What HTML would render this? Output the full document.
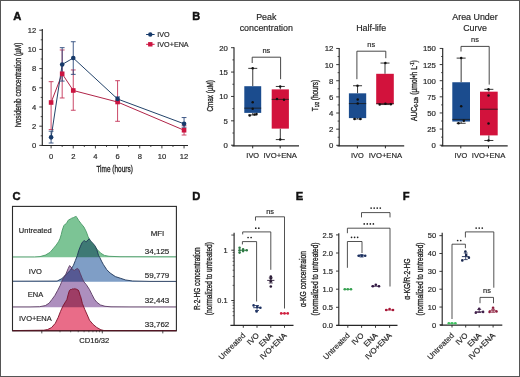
<!DOCTYPE html>
<html><head><meta charset="utf-8"><style>
html,body{margin:0;padding:0;background:#fff;}
body{width:520px;height:377px;overflow:hidden;}
svg{display:block;font-family:"Liberation Sans", sans-serif;}
text{stroke:#2a2a2a;stroke-width:0.18px;paint-order:stroke;}
text.pl{stroke:#111;stroke-width:0.45px;}
text.cd{stroke-width:0.34px;}
</style></head><body>
<svg width="520" height="377" viewBox="0 0 520 377">
<rect x="0" y="0" width="520" height="377" fill="#fff"/>
<text transform="translate(13.20,19.70)" font-size="11.2" text-anchor="start" fill="#111" font-weight="bold" class="pl">A</text>
<line x1="42.30" y1="29.00" x2="42.30" y2="145.90" stroke="#262626" stroke-width="1.15"/>
<line x1="41.80" y1="145.50" x2="188.00" y2="145.50" stroke="#262626" stroke-width="1.15"/>
<line x1="39.30" y1="145.40" x2="42.30" y2="145.40" stroke="#262626" stroke-width="0.9"/>
<text transform="translate(36.20,148.10)" font-size="7.6" text-anchor="end" fill="#262626" font-weight="normal" >0</text>
<line x1="40.70" y1="135.80" x2="42.30" y2="135.80" stroke="#262626" stroke-width="0.8"/>
<line x1="39.30" y1="126.20" x2="42.30" y2="126.20" stroke="#262626" stroke-width="0.9"/>
<text transform="translate(36.20,128.90)" font-size="7.6" text-anchor="end" fill="#262626" font-weight="normal" >2</text>
<line x1="40.70" y1="116.60" x2="42.30" y2="116.60" stroke="#262626" stroke-width="0.8"/>
<line x1="39.30" y1="107.00" x2="42.30" y2="107.00" stroke="#262626" stroke-width="0.9"/>
<text transform="translate(36.20,109.70)" font-size="7.6" text-anchor="end" fill="#262626" font-weight="normal" >4</text>
<line x1="40.70" y1="97.40" x2="42.30" y2="97.40" stroke="#262626" stroke-width="0.8"/>
<line x1="39.30" y1="87.80" x2="42.30" y2="87.80" stroke="#262626" stroke-width="0.9"/>
<text transform="translate(36.20,90.50)" font-size="7.6" text-anchor="end" fill="#262626" font-weight="normal" >6</text>
<line x1="40.70" y1="78.20" x2="42.30" y2="78.20" stroke="#262626" stroke-width="0.8"/>
<line x1="39.30" y1="68.60" x2="42.30" y2="68.60" stroke="#262626" stroke-width="0.9"/>
<text transform="translate(36.20,71.30)" font-size="7.6" text-anchor="end" fill="#262626" font-weight="normal" >8</text>
<line x1="40.70" y1="59.00" x2="42.30" y2="59.00" stroke="#262626" stroke-width="0.8"/>
<line x1="39.30" y1="49.40" x2="42.30" y2="49.40" stroke="#262626" stroke-width="0.9"/>
<text transform="translate(36.20,52.10)" font-size="7.6" text-anchor="end" fill="#262626" font-weight="normal" >10</text>
<line x1="40.70" y1="39.80" x2="42.30" y2="39.80" stroke="#262626" stroke-width="0.8"/>
<line x1="39.30" y1="30.20" x2="42.30" y2="30.20" stroke="#262626" stroke-width="0.9"/>
<text transform="translate(36.20,32.90)" font-size="7.6" text-anchor="end" fill="#262626" font-weight="normal" >12</text>
<line x1="51.10" y1="145.40" x2="51.10" y2="148.40" stroke="#262626" stroke-width="0.9"/>
<text transform="translate(51.10,159.30)" font-size="7.6" text-anchor="middle" fill="#262626" font-weight="normal" >0</text>
<line x1="62.18" y1="145.40" x2="62.18" y2="147.00" stroke="#262626" stroke-width="0.8"/>
<line x1="73.26" y1="145.40" x2="73.26" y2="148.40" stroke="#262626" stroke-width="0.9"/>
<text transform="translate(73.26,159.30)" font-size="7.6" text-anchor="middle" fill="#262626" font-weight="normal" >2</text>
<line x1="84.34" y1="145.40" x2="84.34" y2="147.00" stroke="#262626" stroke-width="0.8"/>
<line x1="95.42" y1="145.40" x2="95.42" y2="148.40" stroke="#262626" stroke-width="0.9"/>
<text transform="translate(95.42,159.30)" font-size="7.6" text-anchor="middle" fill="#262626" font-weight="normal" >4</text>
<line x1="106.50" y1="145.40" x2="106.50" y2="147.00" stroke="#262626" stroke-width="0.8"/>
<line x1="117.58" y1="145.40" x2="117.58" y2="148.40" stroke="#262626" stroke-width="0.9"/>
<text transform="translate(117.58,159.30)" font-size="7.6" text-anchor="middle" fill="#262626" font-weight="normal" >6</text>
<line x1="128.66" y1="145.40" x2="128.66" y2="147.00" stroke="#262626" stroke-width="0.8"/>
<line x1="139.74" y1="145.40" x2="139.74" y2="148.40" stroke="#262626" stroke-width="0.9"/>
<text transform="translate(139.74,159.30)" font-size="7.6" text-anchor="middle" fill="#262626" font-weight="normal" >8</text>
<line x1="150.82" y1="145.40" x2="150.82" y2="147.00" stroke="#262626" stroke-width="0.8"/>
<line x1="161.90" y1="145.40" x2="161.90" y2="148.40" stroke="#262626" stroke-width="0.9"/>
<text transform="translate(161.90,159.30)" font-size="7.6" text-anchor="middle" fill="#262626" font-weight="normal" >10</text>
<line x1="172.98" y1="145.40" x2="172.98" y2="147.00" stroke="#262626" stroke-width="0.8"/>
<line x1="184.06" y1="145.40" x2="184.06" y2="148.40" stroke="#262626" stroke-width="0.9"/>
<text transform="translate(184.06,159.30)" font-size="7.6" text-anchor="middle" fill="#262626" font-weight="normal" >12</text>
<text transform="translate(114.60,172.40) scale(0.705,1)" font-size="9.2" text-anchor="middle" fill="#262626" font-weight="normal"  class="cd">Time (hours)</text>
<text transform="translate(21.40,85.00) rotate(-90) scale(0.75,1)" font-size="8.6" text-anchor="middle" fill="#262626" font-weight="normal"  class="cd">Ivosidenib concentration (µM)</text>
<line x1="51.10" y1="129.56" x2="51.10" y2="81.66" stroke="#c43458" stroke-width="0.9"/>
<line x1="48.70" y1="81.66" x2="53.50" y2="81.66" stroke="#c43458" stroke-width="0.9"/>
<line x1="48.70" y1="129.56" x2="53.50" y2="129.56" stroke="#c43458" stroke-width="0.9"/>
<line x1="62.18" y1="97.98" x2="62.18" y2="49.98" stroke="#c43458" stroke-width="0.9"/>
<line x1="59.78" y1="49.98" x2="64.58" y2="49.98" stroke="#c43458" stroke-width="0.9"/>
<line x1="59.78" y1="97.98" x2="64.58" y2="97.98" stroke="#c43458" stroke-width="0.9"/>
<line x1="73.26" y1="110.26" x2="73.26" y2="69.94" stroke="#c43458" stroke-width="0.9"/>
<line x1="70.86" y1="69.94" x2="75.66" y2="69.94" stroke="#c43458" stroke-width="0.9"/>
<line x1="70.86" y1="110.26" x2="75.66" y2="110.26" stroke="#c43458" stroke-width="0.9"/>
<line x1="117.58" y1="121.30" x2="117.58" y2="80.70" stroke="#c43458" stroke-width="0.9"/>
<line x1="115.18" y1="80.70" x2="119.98" y2="80.70" stroke="#c43458" stroke-width="0.9"/>
<line x1="115.18" y1="121.30" x2="119.98" y2="121.30" stroke="#c43458" stroke-width="0.9"/>
<line x1="184.06" y1="135.03" x2="184.06" y2="125.24" stroke="#c43458" stroke-width="0.9"/>
<line x1="181.66" y1="125.24" x2="186.46" y2="125.24" stroke="#c43458" stroke-width="0.9"/>
<line x1="181.66" y1="135.03" x2="186.46" y2="135.03" stroke="#c43458" stroke-width="0.9"/>
<line x1="51.10" y1="143.00" x2="51.10" y2="131.19" stroke="#2c4a7c" stroke-width="0.9"/>
<line x1="48.70" y1="131.19" x2="53.50" y2="131.19" stroke="#2c4a7c" stroke-width="0.9"/>
<line x1="48.70" y1="143.00" x2="53.50" y2="143.00" stroke="#2c4a7c" stroke-width="0.9"/>
<line x1="62.18" y1="81.08" x2="62.18" y2="47.67" stroke="#2c4a7c" stroke-width="0.9"/>
<line x1="59.78" y1="47.67" x2="64.58" y2="47.67" stroke="#2c4a7c" stroke-width="0.9"/>
<line x1="59.78" y1="81.08" x2="64.58" y2="81.08" stroke="#2c4a7c" stroke-width="0.9"/>
<line x1="73.26" y1="74.36" x2="73.26" y2="41.72" stroke="#2c4a7c" stroke-width="0.9"/>
<line x1="70.86" y1="41.72" x2="75.66" y2="41.72" stroke="#2c4a7c" stroke-width="0.9"/>
<line x1="70.86" y1="74.36" x2="75.66" y2="74.36" stroke="#2c4a7c" stroke-width="0.9"/>
<line x1="117.58" y1="101.24" x2="117.58" y2="96.92" stroke="#2c4a7c" stroke-width="0.9"/>
<line x1="115.18" y1="96.92" x2="119.98" y2="96.92" stroke="#2c4a7c" stroke-width="0.9"/>
<line x1="115.18" y1="101.24" x2="119.98" y2="101.24" stroke="#2c4a7c" stroke-width="0.9"/>
<line x1="184.06" y1="127.16" x2="184.06" y2="117.56" stroke="#2c4a7c" stroke-width="0.9"/>
<line x1="181.66" y1="117.56" x2="186.46" y2="117.56" stroke="#2c4a7c" stroke-width="0.9"/>
<line x1="181.66" y1="127.16" x2="186.46" y2="127.16" stroke="#2c4a7c" stroke-width="0.9"/>
<polyline points="51.10,102.49 62.18,73.78 73.26,90.49 117.58,102.01 184.06,130.23" stroke="#b02448" stroke-width="1.0" fill="none"/>
<polyline points="51.10,137.34 62.18,64.47 73.26,58.04 117.58,99.03 184.06,123.80" stroke="#23436a" stroke-width="1.0" fill="none"/>
<rect x="48.80" y="100.19" width="4.60" height="4.60" fill="#cc1440" stroke="none" stroke-width="0"/>
<rect x="59.88" y="71.48" width="4.60" height="4.60" fill="#cc1440" stroke="none" stroke-width="0"/>
<rect x="70.96" y="88.19" width="4.60" height="4.60" fill="#cc1440" stroke="none" stroke-width="0"/>
<rect x="115.28" y="99.71" width="4.60" height="4.60" fill="#cc1440" stroke="none" stroke-width="0"/>
<rect x="181.76" y="127.93" width="4.60" height="4.60" fill="#cc1440" stroke="none" stroke-width="0"/>
<circle cx="51.10" cy="137.34" r="2.3" fill="#173a6a"/>
<circle cx="62.18" cy="64.47" r="2.3" fill="#173a6a"/>
<circle cx="73.26" cy="58.04" r="2.3" fill="#173a6a"/>
<circle cx="117.58" cy="99.03" r="2.3" fill="#173a6a"/>
<circle cx="184.06" cy="123.80" r="2.3" fill="#173a6a"/>
<line x1="146.10" y1="34.50" x2="154.60" y2="34.50" stroke="#173a6a" stroke-width="1.0"/>
<circle cx="150.30" cy="34.50" r="2.2" fill="#173a6a"/>
<line x1="146.10" y1="44.30" x2="154.60" y2="44.30" stroke="#cc1440" stroke-width="1.0"/>
<rect x="148.10" y="42.10" width="4.40" height="4.40" fill="#cc1440" stroke="none" stroke-width="0"/>
<text transform="translate(157.30,37.10)" font-size="7.2" text-anchor="start" fill="#262626" font-weight="normal" >IVO</text>
<text transform="translate(157.30,46.90)" font-size="7.2" text-anchor="start" fill="#262626" font-weight="normal" >IVO+ENA</text>
<text transform="translate(192.20,20.40)" font-size="11.0" text-anchor="start" fill="#111" font-weight="bold" class="pl">B</text>
<line x1="234.00" y1="47.20" x2="234.00" y2="146.20" stroke="#262626" stroke-width="1.15"/>
<line x1="232.20" y1="145.85" x2="299.00" y2="145.85" stroke="#262626" stroke-width="1.15"/>
<line x1="231.00" y1="145.20" x2="234.00" y2="145.20" stroke="#262626" stroke-width="0.9"/>
<text transform="translate(227.90,148.20)" font-size="7.8" text-anchor="end" fill="#262626" font-weight="normal" >0</text>
<line x1="231.00" y1="120.82" x2="234.00" y2="120.82" stroke="#262626" stroke-width="0.9"/>
<text transform="translate(227.90,123.82)" font-size="7.8" text-anchor="end" fill="#262626" font-weight="normal" >5</text>
<line x1="231.00" y1="96.45" x2="234.00" y2="96.45" stroke="#262626" stroke-width="0.9"/>
<text transform="translate(227.90,99.45)" font-size="7.8" text-anchor="end" fill="#262626" font-weight="normal" >10</text>
<line x1="231.00" y1="72.07" x2="234.00" y2="72.07" stroke="#262626" stroke-width="0.9"/>
<text transform="translate(227.90,75.07)" font-size="7.8" text-anchor="end" fill="#262626" font-weight="normal" >15</text>
<line x1="231.00" y1="47.70" x2="234.00" y2="47.70" stroke="#262626" stroke-width="0.9"/>
<text transform="translate(227.90,50.70)" font-size="7.8" text-anchor="end" fill="#262626" font-weight="normal" >20</text>
<line x1="232.40" y1="133.01" x2="234.00" y2="133.01" stroke="#262626" stroke-width="0.8"/>
<line x1="232.40" y1="108.64" x2="234.00" y2="108.64" stroke="#262626" stroke-width="0.8"/>
<line x1="232.40" y1="84.26" x2="234.00" y2="84.26" stroke="#262626" stroke-width="0.8"/>
<line x1="232.40" y1="59.89" x2="234.00" y2="59.89" stroke="#262626" stroke-width="0.8"/>
<line x1="252.70" y1="145.85" x2="252.70" y2="148.30" stroke="#262626" stroke-width="1.0"/>
<line x1="280.20" y1="145.85" x2="280.20" y2="148.30" stroke="#262626" stroke-width="1.0"/>
<text transform="translate(252.70,158.20)" font-size="7.4" text-anchor="middle" fill="#262626" font-weight="normal" >IVO</text>
<text transform="translate(280.20,158.20) scale(1.04,1)" font-size="7.4" text-anchor="middle" fill="#262626" font-weight="normal" >IVO+ENA</text>
<line x1="252.75" y1="68.37" x2="252.75" y2="86.21" stroke="#222" stroke-width="0.9"/>
<line x1="252.75" y1="112.88" x2="252.75" y2="114.97" stroke="#222" stroke-width="0.9"/>
<line x1="248.25" y1="68.37" x2="257.25" y2="68.37" stroke="#222" stroke-width="0.9"/>
<line x1="248.25" y1="114.97" x2="257.25" y2="114.97" stroke="#222" stroke-width="0.9"/>
<rect x="244.30" y="86.21" width="16.90" height="26.67" fill="#1b4c8e" stroke="none" stroke-width="0"/>
<line x1="244.30" y1="108.15" x2="261.20" y2="108.15" stroke="#1a1a1a" stroke-width="0.8"/>
<circle cx="252.70" cy="68.37" r="1.25" fill="#111"/>
<circle cx="252.70" cy="102.30" r="1.25" fill="#111"/>
<circle cx="252.70" cy="108.64" r="1.25" fill="#111"/>
<circle cx="249.70" cy="115.46" r="1.25" fill="#111"/>
<circle cx="254.50" cy="114.49" r="1.25" fill="#111"/>
<circle cx="256.50" cy="114.00" r="1.25" fill="#111"/>
<line x1="280.30" y1="86.46" x2="280.30" y2="89.38" stroke="#222" stroke-width="0.9"/>
<line x1="280.30" y1="128.62" x2="280.30" y2="139.59" stroke="#222" stroke-width="0.9"/>
<line x1="275.80" y1="86.46" x2="284.80" y2="86.46" stroke="#222" stroke-width="0.9"/>
<line x1="275.80" y1="139.59" x2="284.80" y2="139.59" stroke="#222" stroke-width="0.9"/>
<rect x="271.70" y="89.38" width="17.20" height="39.24" fill="#d2123c" stroke="none" stroke-width="0"/>
<line x1="271.70" y1="99.37" x2="288.90" y2="99.37" stroke="#1a1a1a" stroke-width="0.8"/>
<circle cx="280.20" cy="86.46" r="1.25" fill="#111"/>
<circle cx="277.00" cy="98.89" r="1.25" fill="#111"/>
<circle cx="284.00" cy="99.86" r="1.25" fill="#111"/>
<circle cx="280.20" cy="139.59" r="1.25" fill="#111"/>
<polyline points="252.20,63.00 252.20,57.20 280.60,57.20 280.60,79.20" stroke="#333" stroke-width="0.9" fill="none"/>
<text transform="translate(266.30,53.20)" font-size="7.4" text-anchor="middle" fill="#262626" font-weight="normal" >ns</text>
<text transform="translate(266.30,19.60)" font-size="8.9" text-anchor="middle" fill="#262626" font-weight="normal" >Peak</text>
<text transform="translate(266.30,31.00)" font-size="8.9" text-anchor="middle" fill="#262626" font-weight="normal" >concentration</text>
<text transform="translate(212.70,95.80) rotate(-90) scale(0.746,1)" font-size="8.5" text-anchor="middle" fill="#262626" font-weight="normal"  class="cd">Cmax (µM)</text>
<line x1="339.20" y1="47.96" x2="339.20" y2="146.20" stroke="#262626" stroke-width="1.15"/>
<line x1="337.40" y1="145.85" x2="404.20" y2="145.85" stroke="#262626" stroke-width="1.15"/>
<line x1="336.20" y1="145.30" x2="339.20" y2="145.30" stroke="#262626" stroke-width="0.9"/>
<text transform="translate(333.40,148.30)" font-size="7.8" text-anchor="end" fill="#262626" font-weight="normal" >0</text>
<line x1="336.20" y1="129.16" x2="339.20" y2="129.16" stroke="#262626" stroke-width="0.9"/>
<text transform="translate(333.40,132.16)" font-size="7.8" text-anchor="end" fill="#262626" font-weight="normal" >2</text>
<line x1="336.20" y1="113.02" x2="339.20" y2="113.02" stroke="#262626" stroke-width="0.9"/>
<text transform="translate(333.40,116.02)" font-size="7.8" text-anchor="end" fill="#262626" font-weight="normal" >4</text>
<line x1="336.20" y1="96.88" x2="339.20" y2="96.88" stroke="#262626" stroke-width="0.9"/>
<text transform="translate(333.40,99.88)" font-size="7.8" text-anchor="end" fill="#262626" font-weight="normal" >6</text>
<line x1="336.20" y1="80.74" x2="339.20" y2="80.74" stroke="#262626" stroke-width="0.9"/>
<text transform="translate(333.40,83.74)" font-size="7.8" text-anchor="end" fill="#262626" font-weight="normal" >8</text>
<line x1="336.20" y1="64.60" x2="339.20" y2="64.60" stroke="#262626" stroke-width="0.9"/>
<text transform="translate(333.40,67.60)" font-size="7.8" text-anchor="end" fill="#262626" font-weight="normal" >10</text>
<line x1="336.20" y1="48.46" x2="339.20" y2="48.46" stroke="#262626" stroke-width="0.9"/>
<text transform="translate(333.40,51.46)" font-size="7.8" text-anchor="end" fill="#262626" font-weight="normal" >12</text>
<line x1="337.60" y1="137.23" x2="339.20" y2="137.23" stroke="#262626" stroke-width="0.8"/>
<line x1="337.60" y1="121.09" x2="339.20" y2="121.09" stroke="#262626" stroke-width="0.8"/>
<line x1="337.60" y1="104.95" x2="339.20" y2="104.95" stroke="#262626" stroke-width="0.8"/>
<line x1="337.60" y1="88.81" x2="339.20" y2="88.81" stroke="#262626" stroke-width="0.8"/>
<line x1="337.60" y1="72.67" x2="339.20" y2="72.67" stroke="#262626" stroke-width="0.8"/>
<line x1="337.60" y1="56.53" x2="339.20" y2="56.53" stroke="#262626" stroke-width="0.8"/>
<line x1="357.40" y1="145.85" x2="357.40" y2="148.30" stroke="#262626" stroke-width="1.0"/>
<line x1="385.40" y1="145.85" x2="385.40" y2="148.30" stroke="#262626" stroke-width="1.0"/>
<text transform="translate(357.40,158.20)" font-size="7.4" text-anchor="middle" fill="#262626" font-weight="normal" >IVO</text>
<text transform="translate(385.40,158.20) scale(1.04,1)" font-size="7.4" text-anchor="middle" fill="#262626" font-weight="normal" >IVO+ENA</text>
<line x1="357.55" y1="85.74" x2="357.55" y2="93.33" stroke="#222" stroke-width="0.9"/>
<line x1="357.55" y1="118.10" x2="357.55" y2="118.99" stroke="#222" stroke-width="0.9"/>
<line x1="353.05" y1="85.74" x2="362.05" y2="85.74" stroke="#222" stroke-width="0.9"/>
<line x1="353.05" y1="118.99" x2="362.05" y2="118.99" stroke="#222" stroke-width="0.9"/>
<rect x="348.90" y="93.33" width="17.30" height="24.77" fill="#1b4c8e" stroke="none" stroke-width="0"/>
<line x1="348.90" y1="103.58" x2="366.20" y2="103.58" stroke="#1a1a1a" stroke-width="0.8"/>
<circle cx="357.50" cy="85.74" r="1.25" fill="#111"/>
<circle cx="357.70" cy="99.62" r="1.25" fill="#111"/>
<circle cx="357.70" cy="103.58" r="1.25" fill="#111"/>
<circle cx="354.60" cy="118.99" r="1.25" fill="#111"/>
<circle cx="360.30" cy="118.99" r="1.25" fill="#111"/>
<line x1="385.00" y1="63.07" x2="385.00" y2="73.80" stroke="#222" stroke-width="0.9"/>
<line x1="385.00" y1="104.14" x2="385.00" y2="104.55" stroke="#222" stroke-width="0.9"/>
<line x1="380.50" y1="63.07" x2="389.50" y2="63.07" stroke="#222" stroke-width="0.9"/>
<line x1="380.50" y1="104.55" x2="389.50" y2="104.55" stroke="#222" stroke-width="0.9"/>
<rect x="376.20" y="73.80" width="17.60" height="30.34" fill="#d2123c" stroke="none" stroke-width="0"/>
<line x1="376.20" y1="103.74" x2="393.80" y2="103.74" stroke="#1a1a1a" stroke-width="0.8"/>
<circle cx="385.40" cy="63.07" r="1.25" fill="#111"/>
<circle cx="379.70" cy="104.55" r="1.25" fill="#111"/>
<circle cx="385.40" cy="103.74" r="1.25" fill="#111"/>
<circle cx="390.80" cy="104.14" r="1.25" fill="#111"/>
<polyline points="356.90,79.20 356.90,51.20 385.80,51.20 385.80,58.20" stroke="#333" stroke-width="0.9" fill="none"/>
<text transform="translate(371.20,47.30)" font-size="7.4" text-anchor="middle" fill="#262626" font-weight="normal" >ns</text>
<text transform="translate(371.20,30.80)" font-size="8.9" text-anchor="middle" fill="#262626" font-weight="normal" >Half-life</text>
<text transform="translate(318.30,95.50) rotate(-90) scale(0.76,1)" font-size="8.5" text-anchor="middle" fill="#262626" font-weight="normal"  class="cd">T<tspan font-size="5" dy="0.8">1/2</tspan><tspan dy="-0.8"> (hours)</tspan></text>
<line x1="442.70" y1="47.95" x2="442.70" y2="146.20" stroke="#262626" stroke-width="1.15"/>
<line x1="440.90" y1="145.85" x2="507.70" y2="145.85" stroke="#262626" stroke-width="1.15"/>
<line x1="439.70" y1="145.20" x2="442.70" y2="145.20" stroke="#262626" stroke-width="0.9"/>
<text transform="translate(435.90,148.20)" font-size="7.8" text-anchor="end" fill="#262626" font-weight="normal" >0</text>
<line x1="439.70" y1="129.07" x2="442.70" y2="129.07" stroke="#262626" stroke-width="0.9"/>
<text transform="translate(435.90,132.07)" font-size="7.8" text-anchor="end" fill="#262626" font-weight="normal" >25</text>
<line x1="439.70" y1="112.95" x2="442.70" y2="112.95" stroke="#262626" stroke-width="0.9"/>
<text transform="translate(435.90,115.95)" font-size="7.8" text-anchor="end" fill="#262626" font-weight="normal" >50</text>
<line x1="439.70" y1="96.82" x2="442.70" y2="96.82" stroke="#262626" stroke-width="0.9"/>
<text transform="translate(435.90,99.82)" font-size="7.8" text-anchor="end" fill="#262626" font-weight="normal" >75</text>
<line x1="439.70" y1="80.70" x2="442.70" y2="80.70" stroke="#262626" stroke-width="0.9"/>
<text transform="translate(435.90,83.70)" font-size="7.8" text-anchor="end" fill="#262626" font-weight="normal" >100</text>
<line x1="439.70" y1="64.57" x2="442.70" y2="64.57" stroke="#262626" stroke-width="0.9"/>
<text transform="translate(435.90,67.57)" font-size="7.8" text-anchor="end" fill="#262626" font-weight="normal" >125</text>
<line x1="439.70" y1="48.45" x2="442.70" y2="48.45" stroke="#262626" stroke-width="0.9"/>
<text transform="translate(435.90,51.45)" font-size="7.8" text-anchor="end" fill="#262626" font-weight="normal" >150</text>
<line x1="441.10" y1="137.14" x2="442.70" y2="137.14" stroke="#262626" stroke-width="0.8"/>
<line x1="441.10" y1="121.01" x2="442.70" y2="121.01" stroke="#262626" stroke-width="0.8"/>
<line x1="441.10" y1="104.89" x2="442.70" y2="104.89" stroke="#262626" stroke-width="0.8"/>
<line x1="441.10" y1="88.76" x2="442.70" y2="88.76" stroke="#262626" stroke-width="0.8"/>
<line x1="441.10" y1="72.64" x2="442.70" y2="72.64" stroke="#262626" stroke-width="0.8"/>
<line x1="441.10" y1="56.51" x2="442.70" y2="56.51" stroke="#262626" stroke-width="0.8"/>
<line x1="460.80" y1="145.85" x2="460.80" y2="148.30" stroke="#262626" stroke-width="1.0"/>
<line x1="488.50" y1="145.85" x2="488.50" y2="148.30" stroke="#262626" stroke-width="1.0"/>
<text transform="translate(460.80,158.20)" font-size="7.4" text-anchor="middle" fill="#262626" font-weight="normal" >IVO</text>
<text transform="translate(488.50,158.20) scale(1.04,1)" font-size="7.4" text-anchor="middle" fill="#262626" font-weight="normal" >IVO+ENA</text>
<line x1="461.15" y1="58.12" x2="461.15" y2="82.25" stroke="#222" stroke-width="0.9"/>
<line x1="461.15" y1="121.53" x2="461.15" y2="123.27" stroke="#222" stroke-width="0.9"/>
<line x1="456.65" y1="58.12" x2="465.65" y2="58.12" stroke="#222" stroke-width="0.9"/>
<line x1="456.65" y1="123.27" x2="465.65" y2="123.27" stroke="#222" stroke-width="0.9"/>
<rect x="452.30" y="82.25" width="17.70" height="39.28" fill="#1b4c8e" stroke="none" stroke-width="0"/>
<line x1="452.30" y1="119.40" x2="470.00" y2="119.40" stroke="#1a1a1a" stroke-width="0.8"/>
<circle cx="461.20" cy="58.12" r="1.25" fill="#111"/>
<circle cx="461.20" cy="106.18" r="1.25" fill="#111"/>
<circle cx="458.50" cy="123.27" r="1.25" fill="#111"/>
<circle cx="463.80" cy="120.69" r="1.25" fill="#111"/>
<line x1="488.85" y1="89.34" x2="488.85" y2="91.66" stroke="#222" stroke-width="0.9"/>
<line x1="488.85" y1="135.40" x2="488.85" y2="140.49" stroke="#222" stroke-width="0.9"/>
<line x1="484.35" y1="89.34" x2="493.35" y2="89.34" stroke="#222" stroke-width="0.9"/>
<line x1="484.35" y1="140.49" x2="493.35" y2="140.49" stroke="#222" stroke-width="0.9"/>
<rect x="480.00" y="91.66" width="17.70" height="43.73" fill="#d2123c" stroke="none" stroke-width="0"/>
<line x1="480.00" y1="109.21" x2="497.70" y2="109.21" stroke="#1a1a1a" stroke-width="0.8"/>
<circle cx="488.50" cy="89.34" r="1.25" fill="#111"/>
<circle cx="488.50" cy="95.53" r="1.25" fill="#111"/>
<circle cx="488.50" cy="123.53" r="1.25" fill="#111"/>
<circle cx="488.50" cy="140.49" r="1.25" fill="#111"/>
<polyline points="461.00,51.50 461.00,46.40 489.20,46.40 489.20,84.60" stroke="#333" stroke-width="0.9" fill="none"/>
<text transform="translate(475.00,42.00)" font-size="7.4" text-anchor="middle" fill="#262626" font-weight="normal" >ns</text>
<text transform="translate(475.00,19.60)" font-size="8.9" text-anchor="middle" fill="#262626" font-weight="normal" >Area Under</text>
<text transform="translate(475.00,31.00)" font-size="8.9" text-anchor="middle" fill="#262626" font-weight="normal" >Curve</text>
<text transform="translate(416.60,90.70) rotate(-90) scale(0.795,1)" font-size="8.5" text-anchor="middle" fill="#262626" font-weight="normal"  class="cd">AUC<tspan font-size="5" dy="1.5">0-12h</tspan><tspan dy="-1.5"> (µmol•h L</tspan><tspan font-size="5" dy="-2.5">-1</tspan><tspan dy="2.5">)</tspan></text>
<text transform="translate(12.40,200.00)" font-size="11.2" text-anchor="start" fill="#111" font-weight="bold" class="pl">C</text>
<g>
<path d="M 12.50 257.20 L 12.50 256.90 L 34.60 256.90 L 40.00 256.60 L 45.40 255.10 L 50.00 252.40 L 53.00 248.90 L 56.20 245.10 L 58.50 241.70 L 60.00 238.60 L 61.20 234.70 L 62.30 230.10 L 63.80 225.70 L 65.30 224.10 L 66.50 223.40 L 67.70 221.10 L 68.80 219.70 L 70.00 219.30 L 71.70 218.20 L 73.50 217.60 L 75.20 216.70 L 76.20 216.40 L 76.90 217.50 L 78.70 220.40 L 81.00 223.50 L 83.90 227.00 L 86.30 231.70 L 88.00 236.50 L 90.30 241.00 L 93.90 245.10 L 97.40 249.80 L 100.90 253.30 L 104.40 255.40 L 109.00 256.30 L 120.00 256.70 L 176.50 256.80 L 176.50 257.20 Z" fill="#7cc495" style="mix-blend-mode:multiply"/>
<path d="M 12.50 281.80 L 12.50 281.20 L 57.10 281.10 L 61.90 278.60 L 66.70 273.90 L 70.60 270.00 L 73.50 265.20 L 75.40 260.40 L 77.30 255.60 L 78.70 250.60 L 80.50 246.10 L 82.20 242.40 L 83.50 241.20 L 84.50 240.60 L 85.50 241.60 L 86.30 241.90 L 88.00 239.80 L 89.20 238.80 L 90.30 240.40 L 91.50 241.90 L 93.20 243.60 L 95.00 245.90 L 96.80 249.50 L 98.50 255.30 L 99.80 257.50 L 101.50 261.10 L 103.30 264.40 L 106.70 269.60 L 110.20 273.10 L 115.40 276.60 L 120.60 278.30 L 125.70 280.00 L 132.70 281.00 L 150.00 281.40 L 176.50 281.40 L 176.50 281.80 Z" fill="#7f9ec6" style="mix-blend-mode:multiply"/>
<path d="M 12.50 307.30 L 12.50 306.90 L 30.00 306.90 L 39.60 306.70 L 45.30 305.60 L 49.10 303.20 L 52.00 299.40 L 54.80 295.60 L 57.70 290.30 L 60.10 285.60 L 61.50 282.20 L 62.90 279.00 L 65.80 274.30 L 68.20 268.50 L 69.60 265.60 L 71.10 267.00 L 72.50 269.50 L 74.40 270.40 L 76.00 269.20 L 77.30 268.50 L 78.75 269.50 L 80.20 273.30 L 82.10 278.10 L 84.00 282.00 L 86.20 284.50 L 87.20 286.00 L 89.50 289.60 L 91.90 294.40 L 94.30 299.10 L 96.70 302.10 L 100.30 304.90 L 105.00 306.30 L 111.00 306.80 L 130.00 306.90 L 176.50 306.90 L 176.50 307.30 Z" fill="#ad8fbe" style="mix-blend-mode:multiply"/>
<path d="M 12.50 330.80 L 12.50 330.60 L 43.80 330.20 L 47.60 329.50 L 51.50 327.60 L 55.30 323.30 L 58.10 317.60 L 60.50 311.40 L 62.90 306.10 L 65.80 301.30 L 66.90 299.50 L 68.30 294.10 L 69.30 290.80 L 70.30 289.60 L 71.40 289.50 L 72.30 288.90 L 73.20 289.20 L 74.10 288.50 L 75.00 289.30 L 75.90 288.70 L 76.90 289.50 L 78.20 290.00 L 79.20 292.10 L 80.00 295.10 L 80.70 296.70 L 82.40 303.50 L 84.80 309.50 L 87.20 314.80 L 89.50 320.20 L 93.10 324.40 L 96.70 327.40 L 100.90 329.80 L 103.90 330.50 L 176.50 330.60 L 176.50 330.80 Z" fill="#e96c88" style="mix-blend-mode:multiply"/>
<path d="M 12.50 256.90 L 34.60 256.90 L 40.00 256.60 L 45.40 255.10 L 50.00 252.40 L 53.00 248.90 L 56.20 245.10 L 58.50 241.70 L 60.00 238.60 L 61.20 234.70 L 62.30 230.10 L 63.80 225.70 L 65.30 224.10 L 66.50 223.40 L 67.70 221.10 L 68.80 219.70 L 70.00 219.30 L 71.70 218.20 L 73.50 217.60 L 75.20 216.70 L 76.20 216.40 L 76.90 217.50 L 78.70 220.40 L 81.00 223.50 L 83.90 227.00 L 86.30 231.70 L 88.00 236.50 L 90.30 241.00 L 93.90 245.10 L 97.40 249.80 L 100.90 253.30 L 104.40 255.40 L 109.00 256.30 L 120.00 256.70 L 176.50 256.80" fill="none" stroke="#4a9a66" stroke-width="0.9" stroke-linejoin="round"/>
<path d="M 12.50 281.20 L 57.10 281.10 L 61.90 278.60 L 66.70 273.90 L 70.60 270.00 L 73.50 265.20 L 75.40 260.40 L 77.30 255.60 L 78.70 250.60 L 80.50 246.10 L 82.20 242.40 L 83.50 241.20 L 84.50 240.60 L 85.50 241.60 L 86.30 241.90 L 88.00 239.80 L 89.20 238.80 L 90.30 240.40 L 91.50 241.90 L 93.20 243.60 L 95.00 245.90 L 96.80 249.50 L 98.50 255.30 L 99.80 257.50 L 101.50 261.10 L 103.30 264.40 L 106.70 269.60 L 110.20 273.10 L 115.40 276.60 L 120.60 278.30 L 125.70 280.00 L 132.70 281.00 L 150.00 281.40 L 176.50 281.40" fill="none" stroke="#1e3558" stroke-width="0.9" stroke-linejoin="round"/>
<path d="M 12.50 306.90 L 30.00 306.90 L 39.60 306.70 L 45.30 305.60 L 49.10 303.20 L 52.00 299.40 L 54.80 295.60 L 57.70 290.30 L 60.10 285.60 L 61.50 282.20 L 62.90 279.00 L 65.80 274.30 L 68.20 268.50 L 69.60 265.60 L 71.10 267.00 L 72.50 269.50 L 74.40 270.40 L 76.00 269.20 L 77.30 268.50 L 78.75 269.50 L 80.20 273.30 L 82.10 278.10 L 84.00 282.00 L 86.20 284.50 L 87.20 286.00 L 89.50 289.60 L 91.90 294.40 L 94.30 299.10 L 96.70 302.10 L 100.30 304.90 L 105.00 306.30 L 111.00 306.80 L 130.00 306.90 L 176.50 306.90" fill="none" stroke="#5a3a62" stroke-width="0.9" stroke-linejoin="round"/>
<path d="M 12.50 330.60 L 43.80 330.20 L 47.60 329.50 L 51.50 327.60 L 55.30 323.30 L 58.10 317.60 L 60.50 311.40 L 62.90 306.10 L 65.80 301.30 L 66.90 299.50 L 68.30 294.10 L 69.30 290.80 L 70.30 289.60 L 71.40 289.50 L 72.30 288.90 L 73.20 289.20 L 74.10 288.50 L 75.00 289.30 L 75.90 288.70 L 76.90 289.50 L 78.20 290.00 L 79.20 292.10 L 80.00 295.10 L 80.70 296.70 L 82.40 303.50 L 84.80 309.50 L 87.20 314.80 L 89.50 320.20 L 93.10 324.40 L 96.70 327.40 L 100.90 329.80 L 103.90 330.50 L 176.50 330.60" fill="none" stroke="#7a1028" stroke-width="0.9" stroke-linejoin="round"/>
</g>
<rect x="12.5" y="206.4" width="163.9" height="124.4" fill="none" stroke="#2a2a2a" stroke-width="1.1"/>
<line x1="12.50" y1="330.80" x2="176.40" y2="330.80" stroke="#5a1020" stroke-width="1.1"/>
<line x1="41.80" y1="330.80" x2="41.80" y2="333.40" stroke="#222" stroke-width="0.8"/>
<line x1="102.30" y1="330.80" x2="102.30" y2="333.40" stroke="#222" stroke-width="0.8"/>
<line x1="162.80" y1="330.80" x2="162.80" y2="333.40" stroke="#222" stroke-width="0.8"/>
<line x1="60.01" y1="330.80" x2="60.01" y2="332.30" stroke="#222" stroke-width="0.6"/>
<line x1="70.67" y1="330.80" x2="70.67" y2="332.30" stroke="#222" stroke-width="0.6"/>
<line x1="78.22" y1="330.80" x2="78.22" y2="332.30" stroke="#222" stroke-width="0.6"/>
<line x1="84.09" y1="330.80" x2="84.09" y2="332.30" stroke="#222" stroke-width="0.6"/>
<line x1="88.88" y1="330.80" x2="88.88" y2="332.30" stroke="#222" stroke-width="0.6"/>
<line x1="92.93" y1="330.80" x2="92.93" y2="332.30" stroke="#222" stroke-width="0.6"/>
<line x1="96.44" y1="330.80" x2="96.44" y2="332.30" stroke="#222" stroke-width="0.6"/>
<line x1="99.53" y1="330.80" x2="99.53" y2="332.30" stroke="#222" stroke-width="0.6"/>
<text transform="translate(94.20,343.30)" font-size="7.6" text-anchor="middle" fill="#262626" font-weight="normal" >CD16/32</text>
<text transform="translate(18.80,233.30)" font-size="7.5" text-anchor="start" fill="#262626" font-weight="normal" >Untreated</text>
<text transform="translate(35.30,274.30)" font-size="7.5" text-anchor="middle" fill="#262626" font-weight="normal" >IVO</text>
<text transform="translate(35.50,296.80)" font-size="7.5" text-anchor="middle" fill="#262626" font-weight="normal" >ENA</text>
<text transform="translate(35.40,320.60)" font-size="7.5" text-anchor="middle" fill="#262626" font-weight="normal" >IVO+ENA</text>
<text transform="translate(157.50,236.00)" font-size="7.9" text-anchor="middle" fill="#262626" font-weight="normal" >MFI</text>
<text transform="translate(169.30,253.80)" font-size="8.0" text-anchor="end" fill="#262626" font-weight="normal" >34,125</text>
<text transform="translate(169.30,278.00)" font-size="8.0" text-anchor="end" fill="#262626" font-weight="normal" >59,779</text>
<text transform="translate(169.30,302.50)" font-size="8.0" text-anchor="end" fill="#262626" font-weight="normal" >32,443</text>
<text transform="translate(169.30,327.40)" font-size="8.0" text-anchor="end" fill="#262626" font-weight="normal" >33,762</text>
<text transform="translate(192.30,200.00)" font-size="11.2" text-anchor="start" fill="#111" font-weight="bold" class="pl">D</text>
<line x1="234.10" y1="232.70" x2="234.10" y2="325.80" stroke="#262626" stroke-width="1.15"/>
<line x1="230.40" y1="325.40" x2="293.50" y2="325.40" stroke="#262626" stroke-width="1.15"/>
<line x1="231.30" y1="250.20" x2="234.10" y2="250.20" stroke="#262626" stroke-width="0.9"/>
<text transform="translate(227.60,252.80)" font-size="7.4" text-anchor="end" fill="#262626" font-weight="normal" >1</text>
<line x1="231.30" y1="300.50" x2="234.10" y2="300.50" stroke="#262626" stroke-width="0.9"/>
<text transform="translate(227.60,303.10)" font-size="7.4" text-anchor="end" fill="#262626" font-weight="normal" >0.1</text>
<line x1="231.30" y1="235.06" x2="234.10" y2="235.06" stroke="#262626" stroke-width="0.8"/>
<line x1="232.60" y1="252.50" x2="234.10" y2="252.50" stroke="#262626" stroke-width="0.7"/>
<line x1="232.60" y1="255.07" x2="234.10" y2="255.07" stroke="#262626" stroke-width="0.7"/>
<line x1="232.60" y1="257.99" x2="234.10" y2="257.99" stroke="#262626" stroke-width="0.7"/>
<line x1="232.60" y1="261.36" x2="234.10" y2="261.36" stroke="#262626" stroke-width="0.7"/>
<line x1="232.60" y1="265.34" x2="234.10" y2="265.34" stroke="#262626" stroke-width="0.7"/>
<line x1="232.60" y1="270.22" x2="234.10" y2="270.22" stroke="#262626" stroke-width="0.7"/>
<line x1="232.60" y1="276.50" x2="234.10" y2="276.50" stroke="#262626" stroke-width="0.7"/>
<line x1="232.60" y1="285.36" x2="234.10" y2="285.36" stroke="#262626" stroke-width="0.7"/>
<line x1="232.60" y1="302.80" x2="234.10" y2="302.80" stroke="#262626" stroke-width="0.7"/>
<line x1="232.60" y1="305.37" x2="234.10" y2="305.37" stroke="#262626" stroke-width="0.7"/>
<line x1="232.60" y1="308.29" x2="234.10" y2="308.29" stroke="#262626" stroke-width="0.7"/>
<line x1="232.60" y1="311.66" x2="234.10" y2="311.66" stroke="#262626" stroke-width="0.7"/>
<line x1="232.60" y1="315.64" x2="234.10" y2="315.64" stroke="#262626" stroke-width="0.7"/>
<line x1="243.30" y1="325.40" x2="243.30" y2="327.80" stroke="#262626" stroke-width="0.9"/>
<line x1="257.00" y1="325.40" x2="257.00" y2="327.80" stroke="#262626" stroke-width="0.9"/>
<line x1="270.80" y1="325.40" x2="270.80" y2="327.80" stroke="#262626" stroke-width="0.9"/>
<line x1="284.50" y1="325.40" x2="284.50" y2="327.80" stroke="#262626" stroke-width="0.9"/>
<text transform="translate(245.90,336.00) rotate(-45)" font-size="7.8" text-anchor="end" fill="#262626" font-weight="normal" >Untreated</text>
<text transform="translate(259.60,336.00) rotate(-45)" font-size="7.8" text-anchor="end" fill="#262626" font-weight="normal" >IVO</text>
<text transform="translate(273.40,336.00) rotate(-45)" font-size="7.8" text-anchor="end" fill="#262626" font-weight="normal" >ENA</text>
<text transform="translate(287.10,336.00) rotate(-45)" font-size="7.8" text-anchor="end" fill="#262626" font-weight="normal" >IVO+ENA</text>
<text transform="translate(199.80,278.70) rotate(-90) scale(0.76,1)" font-size="8.5" text-anchor="middle" fill="#262626" font-weight="normal"  class="cd">R-2-HG concentration</text>
<text transform="translate(211.80,278.70) rotate(-90) scale(0.77,1)" font-size="8.5" text-anchor="middle" fill="#262626" font-weight="normal"  class="cd">(normalized to untreated)</text>
<polyline points="242.40,244.40 242.40,241.60 256.60,241.60 256.60,301.50" stroke="#333" stroke-width="0.85" fill="none"/>
<circle cx="248.07" cy="237.50" r="0.85" fill="#222"/>
<circle cx="251.12" cy="237.50" r="0.85" fill="#222"/>
<polyline points="242.70,234.40 242.70,231.90 270.80,231.90 270.80,269.80" stroke="#333" stroke-width="0.85" fill="none"/>
<circle cx="255.78" cy="228.20" r="0.85" fill="#222"/>
<circle cx="258.82" cy="228.20" r="0.85" fill="#222"/>
<polyline points="255.50,220.60 255.50,216.80 284.50,216.80 284.50,308.50" stroke="#333" stroke-width="0.85" fill="none"/>
<text transform="translate(270.10,214.00)" font-size="7.4" text-anchor="middle" fill="#262626" font-weight="normal" >ns</text>
<line x1="239.80" y1="250.30" x2="246.80" y2="250.30" stroke="#2f7a45" stroke-width="0.9"/>
<circle cx="239.60" cy="247.80" r="1.3" fill="#2f7a45"/>
<circle cx="239.60" cy="250.30" r="1.3" fill="#2f7a45"/>
<circle cx="239.60" cy="252.60" r="1.3" fill="#2f7a45"/>
<circle cx="243.10" cy="249.40" r="1.3" fill="#2f7a45"/>
<circle cx="243.10" cy="251.10" r="1.3" fill="#2f7a45"/>
<circle cx="246.70" cy="250.30" r="1.3" fill="#2f7a45"/>
<line x1="253.20" y1="307.70" x2="260.80" y2="307.70" stroke="#1c3060" stroke-width="0.9"/>
<line x1="257.00" y1="305.50" x2="257.00" y2="310.50" stroke="#1c3060" stroke-width="0.8"/>
<line x1="255.00" y1="305.50" x2="259.00" y2="305.50" stroke="#1c3060" stroke-width="0.8"/>
<line x1="255.00" y1="310.50" x2="259.00" y2="310.50" stroke="#1c3060" stroke-width="0.8"/>
<circle cx="253.60" cy="305.40" r="1.3" fill="#1c3060"/>
<circle cx="257.30" cy="306.90" r="1.3" fill="#1c3060"/>
<circle cx="260.40" cy="307.70" r="1.3" fill="#1c3060"/>
<circle cx="256.60" cy="311.50" r="1.3" fill="#1c3060"/>
<line x1="267.20" y1="280.40" x2="274.40" y2="280.40" stroke="#2a1a35" stroke-width="0.9"/>
<line x1="270.80" y1="277.80" x2="270.80" y2="283.00" stroke="#2a1a35" stroke-width="0.8"/>
<line x1="268.80" y1="277.80" x2="272.80" y2="277.80" stroke="#2a1a35" stroke-width="0.8"/>
<line x1="268.80" y1="283.00" x2="272.80" y2="283.00" stroke="#2a1a35" stroke-width="0.8"/>
<circle cx="270.80" cy="276.50" r="1.3" fill="#2a1a35"/>
<circle cx="270.80" cy="278.50" r="1.3" fill="#2a1a35"/>
<circle cx="270.80" cy="281.30" r="1.3" fill="#2a1a35"/>
<circle cx="270.80" cy="286.50" r="1.3" fill="#2a1a35"/>
<line x1="280.70" y1="313.40" x2="288.30" y2="313.40" stroke="#d0203f" stroke-width="0.9"/>
<circle cx="281.20" cy="313.40" r="1.3" fill="#d0203f"/>
<circle cx="284.50" cy="313.40" r="1.3" fill="#d0203f"/>
<circle cx="287.80" cy="313.40" r="1.3" fill="#d0203f"/>
<text transform="translate(295.80,200.00)" font-size="11.2" text-anchor="start" fill="#111" font-weight="bold" class="pl">E</text>
<line x1="338.80" y1="233.20" x2="338.80" y2="325.80" stroke="#262626" stroke-width="1.15"/>
<line x1="336.40" y1="325.40" x2="397.50" y2="325.40" stroke="#262626" stroke-width="1.15"/>
<line x1="336.00" y1="325.40" x2="338.80" y2="325.40" stroke="#262626" stroke-width="0.9"/>
<text transform="translate(332.90,328.10)" font-size="7.5" text-anchor="end" fill="#262626" font-weight="normal" >0.0</text>
<line x1="336.00" y1="307.30" x2="338.80" y2="307.30" stroke="#262626" stroke-width="0.9"/>
<text transform="translate(332.90,310.00)" font-size="7.5" text-anchor="end" fill="#262626" font-weight="normal" >0.5</text>
<line x1="336.00" y1="289.20" x2="338.80" y2="289.20" stroke="#262626" stroke-width="0.9"/>
<text transform="translate(332.90,291.90)" font-size="7.5" text-anchor="end" fill="#262626" font-weight="normal" >1.0</text>
<line x1="336.00" y1="271.10" x2="338.80" y2="271.10" stroke="#262626" stroke-width="0.9"/>
<text transform="translate(332.90,273.80)" font-size="7.5" text-anchor="end" fill="#262626" font-weight="normal" >1.5</text>
<line x1="336.00" y1="253.00" x2="338.80" y2="253.00" stroke="#262626" stroke-width="0.9"/>
<text transform="translate(332.90,255.70)" font-size="7.5" text-anchor="end" fill="#262626" font-weight="normal" >2.0</text>
<line x1="336.00" y1="234.90" x2="338.80" y2="234.90" stroke="#262626" stroke-width="0.9"/>
<text transform="translate(332.90,237.60)" font-size="7.5" text-anchor="end" fill="#262626" font-weight="normal" >2.5</text>
<line x1="347.80" y1="325.40" x2="347.80" y2="327.80" stroke="#262626" stroke-width="0.9"/>
<line x1="361.60" y1="325.40" x2="361.60" y2="327.80" stroke="#262626" stroke-width="0.9"/>
<line x1="375.50" y1="325.40" x2="375.50" y2="327.80" stroke="#262626" stroke-width="0.9"/>
<line x1="389.60" y1="325.40" x2="389.60" y2="327.80" stroke="#262626" stroke-width="0.9"/>
<text transform="translate(350.40,336.00) rotate(-45)" font-size="7.8" text-anchor="end" fill="#262626" font-weight="normal" >Untreated</text>
<text transform="translate(364.20,336.00) rotate(-45)" font-size="7.8" text-anchor="end" fill="#262626" font-weight="normal" >IVO</text>
<text transform="translate(378.10,336.00) rotate(-45)" font-size="7.8" text-anchor="end" fill="#262626" font-weight="normal" >ENA</text>
<text transform="translate(392.20,336.00) rotate(-45)" font-size="7.8" text-anchor="end" fill="#262626" font-weight="normal" >IVO+ENA</text>
<text transform="translate(305.60,279.00) rotate(-90) scale(0.79,1)" font-size="8.5" text-anchor="middle" fill="#262626" font-weight="normal"  class="cd">α-KG concentraion</text>
<text transform="translate(317.60,279.00) rotate(-90) scale(0.77,1)" font-size="8.5" text-anchor="middle" fill="#262626" font-weight="normal"  class="cd">(normalized to untreated)</text>
<polyline points="347.40,267.80 347.40,241.50 362.00,241.50 362.00,253.00" stroke="#333" stroke-width="0.85" fill="none"/>
<circle cx="351.55" cy="237.30" r="0.85" fill="#222"/>
<circle cx="354.60" cy="237.30" r="0.85" fill="#222"/>
<circle cx="357.65" cy="237.30" r="0.85" fill="#222"/>
<polyline points="347.40,233.20 347.40,228.20 390.00,228.20 390.00,286.50" stroke="#333" stroke-width="0.85" fill="none"/>
<circle cx="364.23" cy="223.90" r="0.85" fill="#222"/>
<circle cx="367.28" cy="223.90" r="0.85" fill="#222"/>
<circle cx="370.32" cy="223.90" r="0.85" fill="#222"/>
<circle cx="373.38" cy="223.90" r="0.85" fill="#222"/>
<polyline points="361.50,217.40 361.50,212.60 390.00,212.60 390.00,217.40" stroke="#333" stroke-width="0.85" fill="none"/>
<circle cx="371.12" cy="208.10" r="0.85" fill="#222"/>
<circle cx="374.18" cy="208.10" r="0.85" fill="#222"/>
<circle cx="377.22" cy="208.10" r="0.85" fill="#222"/>
<circle cx="380.27" cy="208.10" r="0.85" fill="#222"/>
<line x1="343.80" y1="289.30" x2="351.80" y2="289.30" stroke="#35a050" stroke-width="0.9"/>
<circle cx="344.80" cy="289.30" r="1.3" fill="#35a050"/>
<circle cx="347.80" cy="289.30" r="1.3" fill="#35a050"/>
<circle cx="351.00" cy="289.30" r="1.3" fill="#35a050"/>
<line x1="357.40" y1="255.80" x2="365.80" y2="255.80" stroke="#1c3060" stroke-width="0.9"/>
<line x1="361.60" y1="254.60" x2="361.60" y2="257.00" stroke="#1c3060" stroke-width="0.8"/>
<line x1="359.60" y1="254.60" x2="363.60" y2="254.60" stroke="#1c3060" stroke-width="0.8"/>
<line x1="359.60" y1="257.00" x2="363.60" y2="257.00" stroke="#1c3060" stroke-width="0.8"/>
<circle cx="358.80" cy="255.80" r="1.3" fill="#1c3060"/>
<circle cx="361.80" cy="255.80" r="1.3" fill="#1c3060"/>
<circle cx="365.20" cy="255.80" r="1.3" fill="#1c3060"/>
<line x1="371.50" y1="286.20" x2="379.50" y2="286.20" stroke="#2e1540" stroke-width="0.9"/>
<circle cx="372.80" cy="286.30" r="1.3" fill="#2e1540"/>
<circle cx="375.80" cy="284.80" r="1.3" fill="#2e1540"/>
<circle cx="379.00" cy="286.30" r="1.3" fill="#2e1540"/>
<line x1="385.40" y1="310.00" x2="393.80" y2="310.00" stroke="#a81838" stroke-width="0.9"/>
<circle cx="386.20" cy="310.00" r="1.3" fill="#a81838"/>
<circle cx="389.60" cy="309.00" r="1.3" fill="#a81838"/>
<circle cx="393.00" cy="310.00" r="1.3" fill="#a81838"/>
<text transform="translate(402.70,200.00)" font-size="11.2" text-anchor="start" fill="#111" font-weight="bold" class="pl">F</text>
<line x1="442.20" y1="232.70" x2="442.20" y2="325.50" stroke="#262626" stroke-width="1.15"/>
<line x1="440.00" y1="325.10" x2="502.30" y2="325.10" stroke="#262626" stroke-width="1.15"/>
<line x1="439.40" y1="324.90" x2="442.20" y2="324.90" stroke="#262626" stroke-width="0.9"/>
<text transform="translate(436.20,327.60)" font-size="7.5" text-anchor="end" fill="#262626" font-weight="normal" >0</text>
<line x1="439.40" y1="307.05" x2="442.20" y2="307.05" stroke="#262626" stroke-width="0.9"/>
<text transform="translate(436.20,309.75)" font-size="7.5" text-anchor="end" fill="#262626" font-weight="normal" >10</text>
<line x1="439.40" y1="289.20" x2="442.20" y2="289.20" stroke="#262626" stroke-width="0.9"/>
<text transform="translate(436.20,291.90)" font-size="7.5" text-anchor="end" fill="#262626" font-weight="normal" >20</text>
<line x1="439.40" y1="271.35" x2="442.20" y2="271.35" stroke="#262626" stroke-width="0.9"/>
<text transform="translate(436.20,274.05)" font-size="7.5" text-anchor="end" fill="#262626" font-weight="normal" >30</text>
<line x1="439.40" y1="253.50" x2="442.20" y2="253.50" stroke="#262626" stroke-width="0.9"/>
<text transform="translate(436.20,256.20)" font-size="7.5" text-anchor="end" fill="#262626" font-weight="normal" >40</text>
<line x1="439.40" y1="235.65" x2="442.20" y2="235.65" stroke="#262626" stroke-width="0.9"/>
<text transform="translate(436.20,238.35)" font-size="7.5" text-anchor="end" fill="#262626" font-weight="normal" >50</text>
<line x1="452.00" y1="325.10" x2="452.00" y2="327.50" stroke="#262626" stroke-width="0.9"/>
<line x1="465.70" y1="325.10" x2="465.70" y2="327.50" stroke="#262626" stroke-width="0.9"/>
<line x1="479.20" y1="325.10" x2="479.20" y2="327.50" stroke="#262626" stroke-width="0.9"/>
<line x1="493.10" y1="325.10" x2="493.10" y2="327.50" stroke="#262626" stroke-width="0.9"/>
<text transform="translate(454.60,336.00) rotate(-45)" font-size="7.8" text-anchor="end" fill="#262626" font-weight="normal" >Untreated</text>
<text transform="translate(468.30,336.00) rotate(-45)" font-size="7.8" text-anchor="end" fill="#262626" font-weight="normal" >IVO</text>
<text transform="translate(481.80,336.00) rotate(-45)" font-size="7.8" text-anchor="end" fill="#262626" font-weight="normal" >ENA</text>
<text transform="translate(495.70,336.00) rotate(-45)" font-size="7.8" text-anchor="end" fill="#262626" font-weight="normal" >IVO+ENA</text>
<text transform="translate(410.20,279.00) rotate(-90) scale(0.8,1)" font-size="8.5" text-anchor="middle" fill="#262626" font-weight="normal"  class="cd">α-KG/R-2-HG</text>
<text transform="translate(423.00,279.00) rotate(-90) scale(0.77,1)" font-size="8.5" text-anchor="middle" fill="#262626" font-weight="normal"  class="cd">(normalized to untreated)</text>
<polyline points="452.00,319.00 452.00,244.20 465.40,244.20 465.40,248.20" stroke="#333" stroke-width="0.85" fill="none"/>
<circle cx="457.68" cy="240.50" r="0.85" fill="#222"/>
<circle cx="460.72" cy="240.50" r="0.85" fill="#222"/>
<polyline points="465.40,237.50 465.40,231.90 493.80,231.90 493.80,287.70" stroke="#333" stroke-width="0.85" fill="none"/>
<circle cx="476.15" cy="228.10" r="0.85" fill="#222"/>
<circle cx="479.20" cy="228.10" r="0.85" fill="#222"/>
<circle cx="482.25" cy="228.10" r="0.85" fill="#222"/>
<polyline points="480.00,303.20 480.00,297.40 493.50,297.40 493.50,303.20" stroke="#333" stroke-width="0.85" fill="none"/>
<text transform="translate(487.00,293.40)" font-size="7.4" text-anchor="middle" fill="#262626" font-weight="normal" >ns</text>
<line x1="448.00" y1="323.20" x2="456.00" y2="323.20" stroke="#40c060" stroke-width="0.9"/>
<circle cx="448.80" cy="323.20" r="1.3" fill="#40c060"/>
<circle cx="452.00" cy="323.20" r="1.3" fill="#40c060"/>
<circle cx="455.40" cy="323.20" r="1.3" fill="#40c060"/>
<line x1="461.90" y1="256.60" x2="469.50" y2="256.60" stroke="#1a2850" stroke-width="0.9"/>
<line x1="465.70" y1="253.00" x2="465.70" y2="259.60" stroke="#1a2850" stroke-width="0.8"/>
<line x1="463.70" y1="253.00" x2="467.70" y2="253.00" stroke="#1a2850" stroke-width="0.8"/>
<line x1="463.70" y1="259.60" x2="467.70" y2="259.60" stroke="#1a2850" stroke-width="0.8"/>
<circle cx="465.40" cy="251.50" r="1.3" fill="#1a2850"/>
<circle cx="466.20" cy="255.00" r="1.3" fill="#1a2850"/>
<circle cx="468.90" cy="257.80" r="1.3" fill="#1a2850"/>
<circle cx="462.30" cy="260.40" r="1.3" fill="#1a2850"/>
<line x1="475.00" y1="311.80" x2="483.40" y2="311.80" stroke="#40204a" stroke-width="0.9"/>
<line x1="479.20" y1="309.50" x2="479.20" y2="312.50" stroke="#40204a" stroke-width="0.8"/>
<line x1="477.20" y1="309.50" x2="481.20" y2="309.50" stroke="#40204a" stroke-width="0.8"/>
<line x1="477.20" y1="312.50" x2="481.20" y2="312.50" stroke="#40204a" stroke-width="0.8"/>
<circle cx="475.80" cy="312.70" r="1.3" fill="#40204a"/>
<circle cx="479.20" cy="308.80" r="1.3" fill="#40204a"/>
<circle cx="483.10" cy="311.90" r="1.3" fill="#40204a"/>
<line x1="489.10" y1="310.80" x2="497.10" y2="310.80" stroke="#8c1c3c" stroke-width="0.9"/>
<line x1="493.10" y1="309.30" x2="493.10" y2="312.30" stroke="#8c1c3c" stroke-width="0.8"/>
<line x1="491.10" y1="309.30" x2="495.10" y2="309.30" stroke="#8c1c3c" stroke-width="0.8"/>
<line x1="491.10" y1="312.30" x2="495.10" y2="312.30" stroke="#8c1c3c" stroke-width="0.8"/>
<circle cx="489.60" cy="311.90" r="1.3" fill="#8c1c3c"/>
<circle cx="493.10" cy="307.70" r="1.3" fill="#8c1c3c"/>
<circle cx="496.50" cy="311.50" r="1.3" fill="#8c1c3c"/>
<rect x="0.5" y="0.5" width="519" height="376" fill="none" stroke="#555" stroke-width="1"/>
</svg></body></html>
